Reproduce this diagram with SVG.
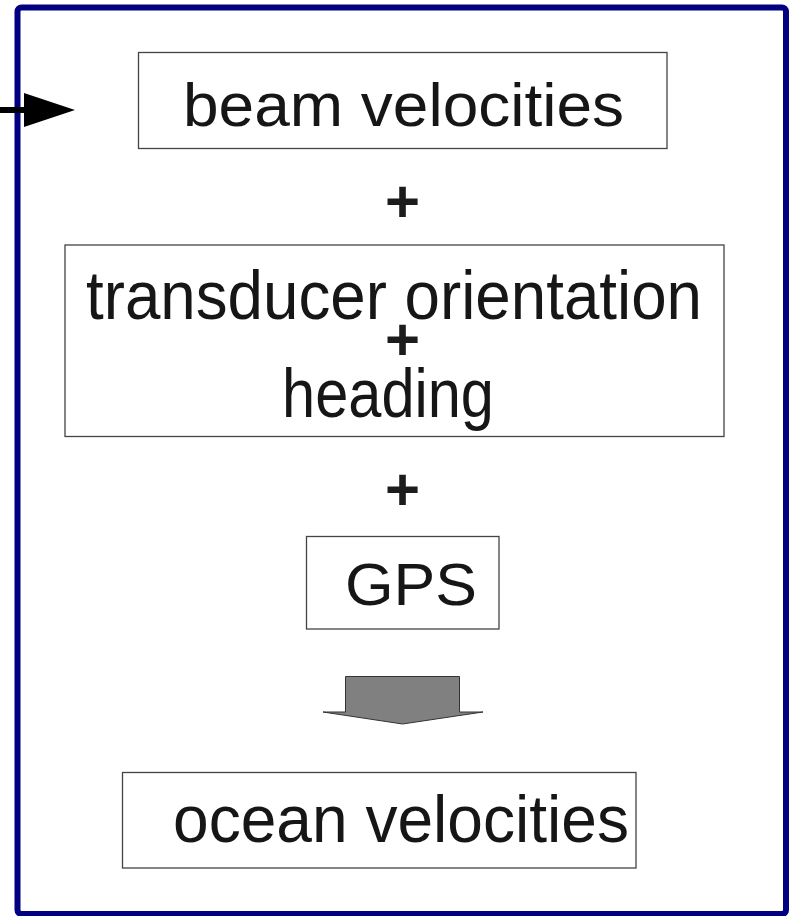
<svg xmlns="http://www.w3.org/2000/svg" width="793" height="916" viewBox="0 0 793 916">
<style>
.box{fill:#fff;stroke:#444;stroke-width:1.3}
.t{font-family:"Liberation Sans",Arial,sans-serif;fill:#161616}
.plus{font-family:"Liberation Sans",Arial,sans-serif;font-weight:bold;font-size:60px;fill:#1c1c1c;text-anchor:middle}
</style>
<rect width="793" height="916" fill="#fff"/>
<g id="frame">
<rect x="17.5" y="7.5" width="768.5" height="906.5" rx="4" fill="none" stroke="#000080" stroke-width="6"/>
</g>
<g id="beam-velocities">
<rect class="box" x="138.5" y="52.5" width="528.5" height="96"/>
<text class="t" x="183" y="126" font-size="62" textLength="441" lengthAdjust="spacingAndGlyphs">beam velocities</text>
</g>
<g id="plus1"><text class="plus" x="402.5" y="222">+</text></g>
<g id="orientation-heading">
<rect class="box" x="65" y="245" width="659" height="191.5"/>
<text class="t" x="86" y="319" font-size="69" textLength="616" lengthAdjust="spacingAndGlyphs">transducer orientation</text>
<text class="plus" x="402.5" y="360">+</text>
<text class="t" x="282" y="417" font-size="69" textLength="212" lengthAdjust="spacingAndGlyphs">heading</text>
</g>
<g id="plus2"><text class="plus" x="402.5" y="510">+</text></g>
<g id="gps">
<rect class="box" x="306.5" y="536.5" width="192.5" height="92.5"/>
<text class="t" x="345" y="605" font-size="60" textLength="132" lengthAdjust="spacingAndGlyphs">GPS</text>
</g>
<g id="ocean-velocities">
<rect class="box" x="122.5" y="772.5" width="513.5" height="95.5"/>
<text class="t" x="173" y="842" font-size="66" textLength="456" lengthAdjust="spacingAndGlyphs">ocean velocities</text>
</g>
<g id="connectors">
<line x1="0" y1="110" x2="30" y2="110" stroke="#000" stroke-width="6"/>
<polygon points="24,93 75,110 24,127" fill="#000"/>
<polygon points="345.5,676.5 459.5,676.5 459.5,712 483,712 402.5,724 323,712 345.5,712" fill="#808080" stroke="#333" stroke-width="1"/>
</g>
</svg>
